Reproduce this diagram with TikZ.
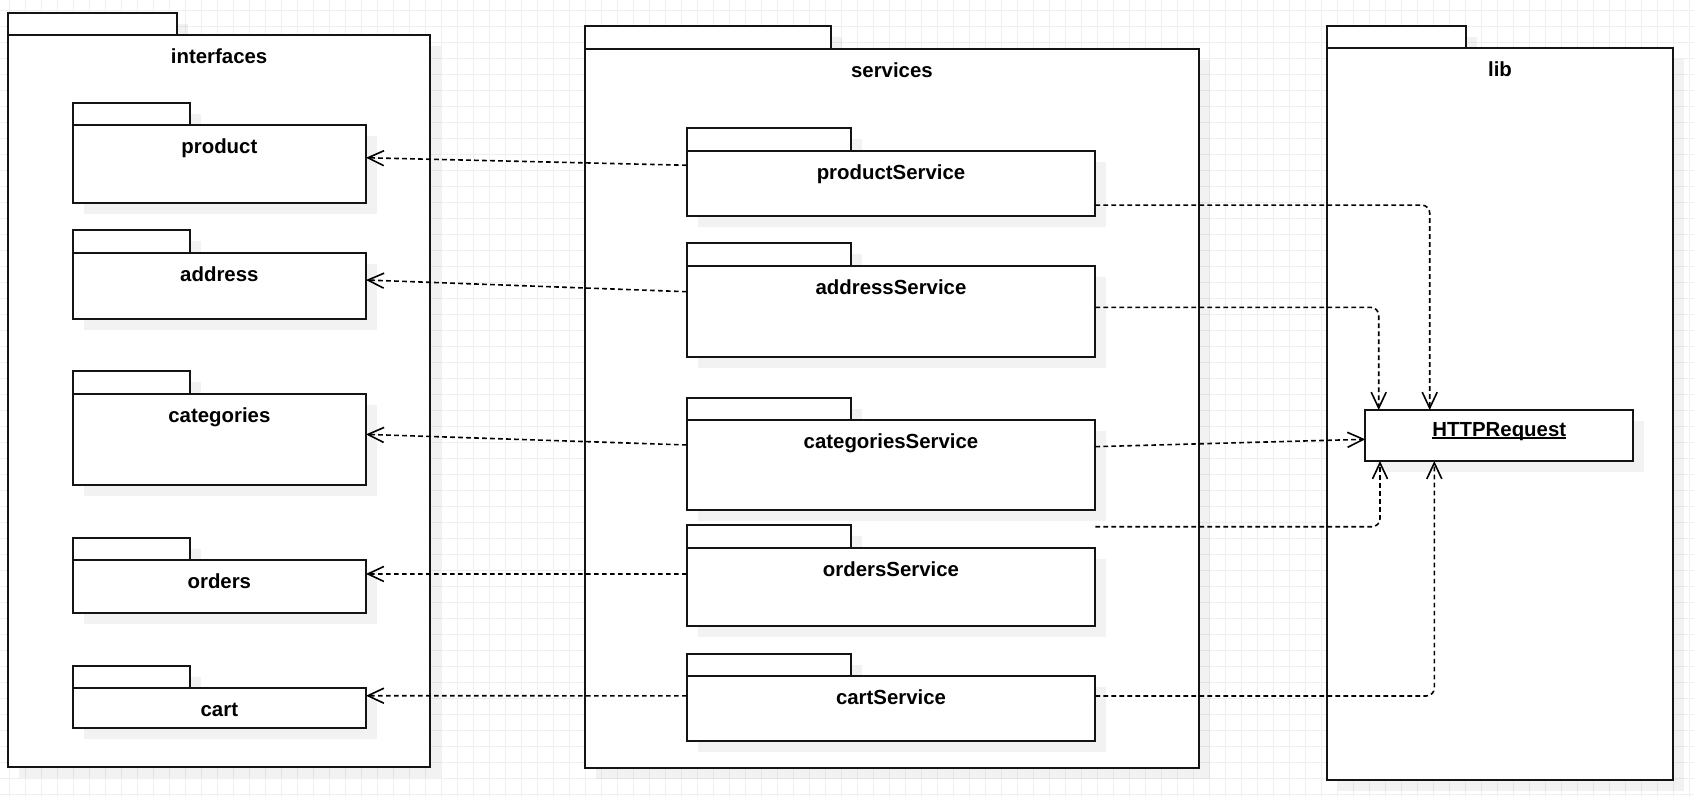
\documentclass[tikz,border=0pt]{standalone}
\usepackage{fontspec}
\setmainfont{Liberation Sans}
\usetikzlibrary{positioning}
\usetikzlibrary{arrows.meta,shadows}

\newcommand\umlunder[1]{\setbox0\hbox{#1}\rlap{\rule[-2.3pt]{\wd0}{1.6pt}}\box0}

\begin{document}
\begin{tikzpicture}[x=1pt,y=-1pt,>={Straight Barb[length=16pt,width=15pt]},
                    line join=miter]
  \tikzstyle{pkgshadow}=[drop shadow={shadow xshift=11pt,shadow yshift=-11pt,fill=black,opacity=0.05}]
  \tikzstyle{pkgtab}=[draw=black!92,fill=white,line width=2pt,inner sep=0pt,outer sep=0pt,
                      minimum height=22.5pt,anchor=south west,pkgshadow]
  \tikzstyle{pkgbody}=[draw=black!92,fill=white,line width=2pt,inner sep=0pt,outer sep=0pt,
                       anchor=north west,pkgshadow]
  \tikzstyle{pkglabel}=[anchor=base,inner sep=0pt,font=\fontsize{20.4}{24}\selectfont\bfseries]
  \tikzstyle{gridline}=[draw=black!6,line width=0.9pt]
  \tikzstyle{dep}=[->,line width=1.6pt,dash pattern=on 4.7pt off 3.3pt,rounded corners=8pt]

  \useasboundingbox[fill=white] (0,0) rectangle (1694,796);
  \begin{scope}[shift={(9.7,10.7)}]
    \draw[gridline] (-16,-16) grid[step=16pt] (1700,800);
  \end{scope}

  % interfaces
  \node[pkgtab,minimum width=169pt]                          (interfacesT) at (8.3,35) {};
  \node[pkgbody,minimum width=421.7pt,minimum height=731.7pt] (interfaces) at (interfacesT.south west) {};
  \node[pkglabel] (interfacesL) at ([yshift=-28.5pt]interfaces.north) {interfaces};

  \node[pkgtab,minimum width=117.6pt]                         (productT) at (72.7,125) {};
  \node[pkgbody,minimum width=293.3pt,minimum height=78.3pt]  (product) at (productT.south west) {};
  \node[pkglabel] (productL) at ([yshift=-28.5pt]product.north) {product};

  \node[pkgtab,minimum width=117.6pt]                         (addressT) at (72.7,252.7) {};
  \node[pkgbody,minimum width=293.3pt,minimum height=66pt]    (address) at (addressT.south west) {};
  \node[pkglabel] (addressL) at ([yshift=-28.5pt]address.north) {address};

  \node[pkgtab,minimum width=117.6pt]                         (categoriesT) at (72.7,393.7) {};
  \node[pkgbody,minimum width=293.3pt,minimum height=91.3pt]  (categories) at (categoriesT.south west) {};
  \node[pkglabel] (categoriesL) at ([yshift=-28.5pt]categories.north) {categories};

  \node[pkgtab,minimum width=117.6pt]                         (ordersT) at (72.7,560.3) {};
  \node[pkgbody,minimum width=293.3pt,minimum height=52.7pt]  (orders) at (ordersT.south west) {};
  \node[pkglabel] (ordersL) at ([yshift=-28.5pt]orders.north) {orders};

  \node[pkgtab,minimum width=117.6pt]                         (cartT) at (72.7,688.3) {};
  \node[pkgbody,minimum width=293.3pt,minimum height=40pt]    (cart) at (cartT.south west) {};
  \node[pkglabel] (cartL) at ([yshift=-28.5pt]cart.north) {cart};

  % services
  \node[pkgtab,minimum width=246.3pt]                          (servicesT) at (584.5,48.6) {};
  \node[pkgbody,minimum width=614.8pt,minimum height=719.6pt]  (services) at (servicesT.south west) {};
  \node[pkglabel] (servicesL) at ([yshift=-28.5pt]services.north) {services};

  \node[pkgtab,minimum width=164pt]                            (productServiceT) at (686.7,150.7) {};
  \node[pkgbody,minimum width=408.6pt,minimum height=65.3pt]   (productService) at (productServiceT.south west) {};
  \node[pkglabel] (productServiceL) at ([yshift=-28.5pt]productService.north) {productService};

  \node[pkgtab,minimum width=164pt]                            (addressServiceT) at (686.7,265.7) {};
  \node[pkgbody,minimum width=408.6pt,minimum height=91pt]     (addressService) at (addressServiceT.south west) {};
  \node[pkglabel] (addressServiceL) at ([yshift=-28.5pt]addressService.north) {addressService};

  \node[pkgtab,minimum width=164pt]                            (categoriesServiceT) at (686.7,420.3) {};
  \node[pkgbody,minimum width=408.6pt,minimum height=89.7pt]   (categoriesService) at (categoriesServiceT.south west) {};
  \node[pkglabel] (categoriesServiceL) at ([yshift=-28.5pt]categoriesService.north) {categoriesService};

  \node[pkgtab,minimum width=164pt]                            (ordersServiceT) at (686.7,547.8) {};
  \node[pkgbody,minimum width=408.6pt,minimum height=77.8pt]   (ordersService) at (ordersServiceT.south west) {};
  \node[pkglabel] (ordersServiceL) at ([yshift=-28.5pt]ordersService.north) {ordersService};

  \node[pkgtab,minimum width=164pt]                            (cartServiceT) at (686.7,676.3) {};
  \node[pkgbody,minimum width=408.6pt,minimum height=64.9pt]   (cartService) at (cartServiceT.south west) {};
  \node[pkglabel] (cartServiceL) at ([yshift=-28.5pt]cartService.north) {cartService};

  % lib
  \node[pkgtab,minimum width=138.7pt]                          (libT) at (1327,48.3) {};
  \node[pkgbody,minimum width=346pt,minimum height=731.7pt]    (lib) at (libT.south west) {};
  \node[pkglabel] (libL) at ([yshift=-28.5pt]lib.north) {lib};

  \node[pkgbody,minimum width=268pt,minimum height=51pt]       (HTTPRequest) at (1365.3,410) {};
  \node[pkglabel] (HTTPRequestL) at ([yshift=-26.7pt]HTTPRequest.north) {\umlunder{HTTPRequest}};

  % dependencies
  \draw[dep] ([yshift=18.1pt]productService.west)    -- ([yshift=6.4pt]product.east);
  \draw[dep] ([yshift=19.5pt]addressService.west)    -- ([yshift=5.7pt]address.east);
  \draw[dep] ([yshift=20.2pt]categoriesService.west) -- ([yshift=5pt]categories.east);
  \draw[dep] ([yshift=12.7pt]ordersService.west)     -- ([yshift=12.7pt]orders.east);
  \draw[dep] ([yshift=12.9pt]cartService.west)       -- ([yshift=12.6pt]cart.east);

  \draw[dep] ([yshift=-21.7pt]productService.east) -| ([xshift=-69.6pt]HTTPRequest.north);
  \draw[dep] ([yshift=3.9pt]addressService.east)   -| ([xshift=-120.6pt]HTTPRequest.north);
  \draw[dep] ([yshift=18.5pt]categoriesService.east) -- ([yshift=-3.8pt]HTTPRequest.west);
  \coordinate (ordersOut) at ([yshift=21.1pt]ordersService.north east);
  \draw[dep] (ordersOut) -| ([xshift=-119.3pt]HTTPRequest.south);
  \draw[dep] ([yshift=12.8pt]cartService.east)     -| ([xshift=-65pt]HTTPRequest.south);
\end{tikzpicture}
\end{document}
